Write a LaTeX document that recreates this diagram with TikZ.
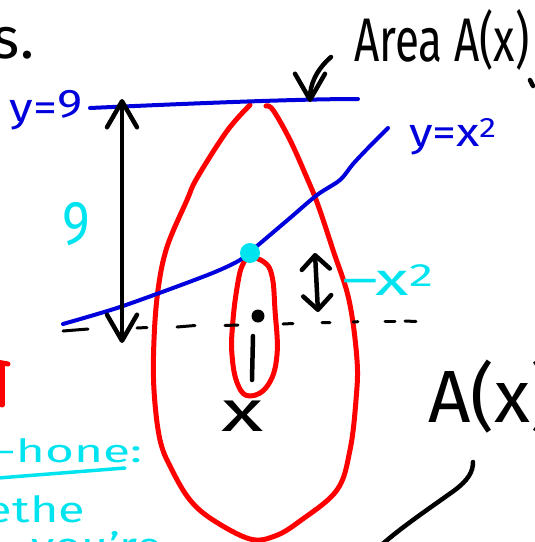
\documentclass[tikz,border=0pt]{standalone}
\usepackage{fontspec}
\setmainfont{Fira Sans}
\usetikzlibrary{arrows.meta}
\definecolor{penred}{RGB}{255,0,0}
\definecolor{penblue}{RGB}{0,0,220}
\definecolor{pencyan}{RGB}{0,228,240}
\tikzset{
  redpen/.style={draw=penred,line width=5pt,line cap=round,line join=round},
  bluepen/.style={draw=penblue,line width=4pt,line cap=round,line join=round},
  blackpen/.style={draw=black,line width=4.5pt,line cap=round,line join=round},
  dashpen/.style={draw=black,line width=3pt,line cap=round},
  hand/.style={inner sep=0pt,outer sep=0pt},
  bigbarb/.tip={Straight Barb[length=26pt,width=30pt,round]},
  smallbarb/.tip={Straight Barb[length=14pt,width=28pt,round]},
}
\begin{document}
\begin{tikzpicture}[x=1pt,y=-1pt]
\useasboundingbox (0,0) rectangle (535,542);
\fill[white] (0,0) rectangle (535,542);
\clip (0,0) rectangle (535,542);

% big red teardrop (cross-section)
\draw[redpen] plot[smooth,tension=0.6] coordinates {(250,105) (227,131) (197,178) (187,200) (167,247) (158,290) (154,340) (154,390) (160,440) (172,470) (190,500) (213,520) (250,539) (275,536) (300,521) (337,490) (350,450) (356,400) (357,360) (349,300) (333,250) (318,205) (307,178) (290,140) (273,110) (266,106)};

% small red ellipse
\draw[redpen] plot[smooth cycle,tension=0.7] coordinates {(250,258) (264,262) (272,276) (275,310) (277,355) (268,385) (250,396) (238,385) (232,355) (233,320) (238,282) (243,264)};

% dashed axis
\draw[dashpen] (63,331) -- (88,329);
\draw[dashpen] (137,328) -- (147,327.5);
\draw[dashpen] (177,327) -- (195,325.5);
\draw[dashpen] (225,325.5) -- (238,325);
\draw[dashpen] (283,324) -- (293,323.5);
\draw[dashpen] (322,322.7) -- (330,322.5);
\draw[dashpen] (353,322) -- (358,321.7);
\draw[dashpen] (385,321) -- (395,321);
\draw[dashpen] (405,321) -- (416,321.5);

% blue lines
\draw[bluepen] (90,108) .. controls (200,103) and (300,99) .. (358,99);
\draw[bluepen] plot[smooth,tension=0.5] coordinates {(63,324) (117,308) (173,288) (215,272) (240,260) (257,246) (290,218) (317,195) (340,180) (353,164) (370,146) (388,128)};

% intersection dot
\fill[pencyan] (250,253) circle[radius=10pt];

% black marks
\fill (258,316) circle[radius=6.5pt];
\draw[blackpen] (253,336) -- (252,380);

% arrows
\coordinate (lt) at (122,99);
\coordinate (lb) at (122,343);
\draw[blackpen,bigbarb-bigbarb] (lt) -- (lb);
\coordinate (rt) at (315,253);
\coordinate (rb) at (318,312);
\draw[blackpen,smallbarb-smallbarb] (rt) -- (rb);
\coordinate (aa) at (331,57);
\coordinate (ab) at (310,102);
\draw[blackpen,-bigbarb] (aa) .. controls (316,70) and (310,85) .. (ab);
\coordinate (ca) at (473,462);
\coordinate (cb) at (378,548);
\draw[blackpen] (ca) .. controls (473,472) and (468,480) .. (455,490) .. controls (430,508) and (400,528) .. (cb);
\draw[blackpen] (530,80) -- (533,86);

% red fragment at left edge
\draw[redpen] (-3,362) -- (8,364);
\draw[redpen] (2,364) -- (2,405);

% texts
\node[hand,anchor=base west,font=\fontsize{58}{60}\selectfont] (s) at (-7,58) {s.};
\node[hand,font=\fontsize{44}{44}\selectfont] (area) at (442,40) {\scalebox{1}[1.4]{Area A(x)}};
\node[hand,text=penblue,font=\fontsize{40}{40}\selectfont] (y9) at (46,110) {\scalebox{1.2}[1]{y=\raisebox{4pt}{9}}};
\node[hand,text=penblue,font=\fontsize{40}{40}\selectfont] (yx) at (453,137) {\scalebox{1.2}[1]{y=x\textsuperscript{2}}};
\node[hand,text=pencyan,font=\fontsize{62}{62}\selectfont] (nine) at (76,224) {\scalebox{0.85}[1]{9}};
\node[hand,text=pencyan,font=\fontsize{46}{46}\selectfont] (mx) at (388,280) {\scalebox{1.5}[1]{–x\textsuperscript{2}}};
\node[hand,font=\fontsize{58}{58}\selectfont] (xl) at (243,416) {\scalebox{1.5}[1]{x}};
\node[hand,anchor=base west,font=\fontsize{74}{74}\selectfont] (ax) at (428,422) {A(x)};
\node[hand,anchor=base west,text=pencyan,font=\fontsize{32}{32}\selectfont] (home) at (-4,462) {\scalebox{1.55}[1]{-hone:}};
\draw[draw=pencyan,line width=3.5pt,line cap=round] (-2,478) -- (125,468);
\node[hand,anchor=base west,text=pencyan,font=\fontsize{36}{36}\selectfont] (the) at (-14,522) {\scalebox{1.35}[1]{ethe}};
\node[hand,anchor=base east,text=pencyan,font=\fontsize{36}{36}\selectfont] (youre) at (162,558) {\scalebox{1.3}[1]{you're}};
\end{tikzpicture}
\end{document}
